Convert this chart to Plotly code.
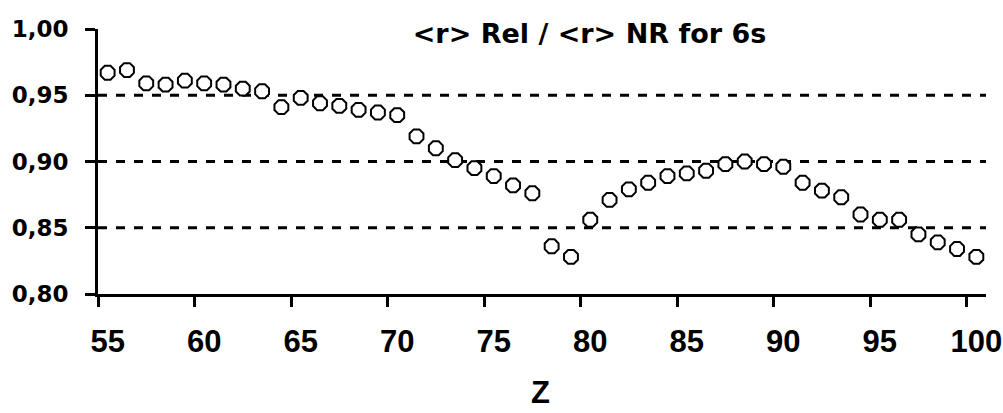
import plotly.graph_objects as go

# ---- data ----
Z = list(range(55, 101))
RATIO = [0.967, 0.969, 0.959, 0.958, 0.961, 0.959, 0.958, 0.955, 0.953, 0.941,
         0.948, 0.944, 0.942, 0.939, 0.937, 0.935, 0.919, 0.910, 0.901, 0.895,
         0.889, 0.882, 0.876, 0.836, 0.828, 0.856, 0.871, 0.879, 0.884, 0.889,
         0.891, 0.893, 0.898, 0.900, 0.898, 0.896, 0.884, 0.878, 0.873, 0.860,
         0.856, 0.856, 0.845, 0.839, 0.834, 0.828]
X_TICKS = [55, 60, 65, 70, 75, 80, 85, 90, 95, 100]
Y_TICKS = [0.80, 0.85, 0.90, 0.95, 1.00]
GRID_LEVELS = [0.85, 0.90, 0.95]
TITLE = "&lt;r&gt; Rel / &lt;r&gt; NR for 6s"
X_TITLE = "Z"

fig = go.Figure()
fig.add_trace(go.Scatter(
    x=Z, y=RATIO, mode="markers",
    marker=dict(symbol="octagon", size=15, color="white",
                line=dict(color="black", width=2)),
    showlegend=False, hoverinfo="skip"))

for lv in GRID_LEVELS:
    fig.add_shape(type="line", xref="paper", x0=0, x1=1, yref="y", y0=lv, y1=lv,
                  line=dict(color="black", width=3, dash="9px,9px"), layer="below")

fig.add_annotation(text=X_TITLE, xref="paper", yref="paper",
                   x=(540 - 98) / 888, y=(294 - 412) / 265,
                   xanchor="center", yanchor="bottom", showarrow=False,
                   font=dict(family="Liberation Sans", size=31, color="black", weight="bold"))

fig.update_layout(
    width=1003, height=413,
    margin=dict(l=98, r=17, t=29, b=119, pad=0, autoexpand=False),
    paper_bgcolor="white", plot_bgcolor="white",
    separators=",.",
    title=dict(text=TITLE, x=589.5 / 1003, xanchor="center", xref="container",
               y=1 - 34 / 413, yanchor="middle", yref="container",
               font=dict(family="DejaVu Sans", size=27, color="black", weight="bold")),
    xaxis=dict(range=[54.5, 100.5], tickvals=X_TICKS, ticks="", automargin=False,
               showline=True, linecolor="black", linewidth=3,
               showgrid=False, zeroline=False,
               minor=dict(tickmode="linear", tick0=54.5, dtick=5, ticks="outside",
                          ticklen=10, tickwidth=3, tickcolor="black", showgrid=False),
               tickfont=dict(family="Liberation Sans", size=31, color="black", weight="bold"),
               ticklabelstandoff=18),
    yaxis=dict(range=[0.80, 1.00], tickvals=Y_TICKS, tickformat=".2f", automargin=False,
               ticks="outside", ticklen=10, tickwidth=3, tickcolor="black",
               showline=True, linecolor="black", linewidth=3,
               showgrid=False, zeroline=False,
               tickfont=dict(family="DejaVu Sans", size=23, color="black", weight="bold"),
               ticklabelstandoff=12),
)

fig.write_html("out.html")
